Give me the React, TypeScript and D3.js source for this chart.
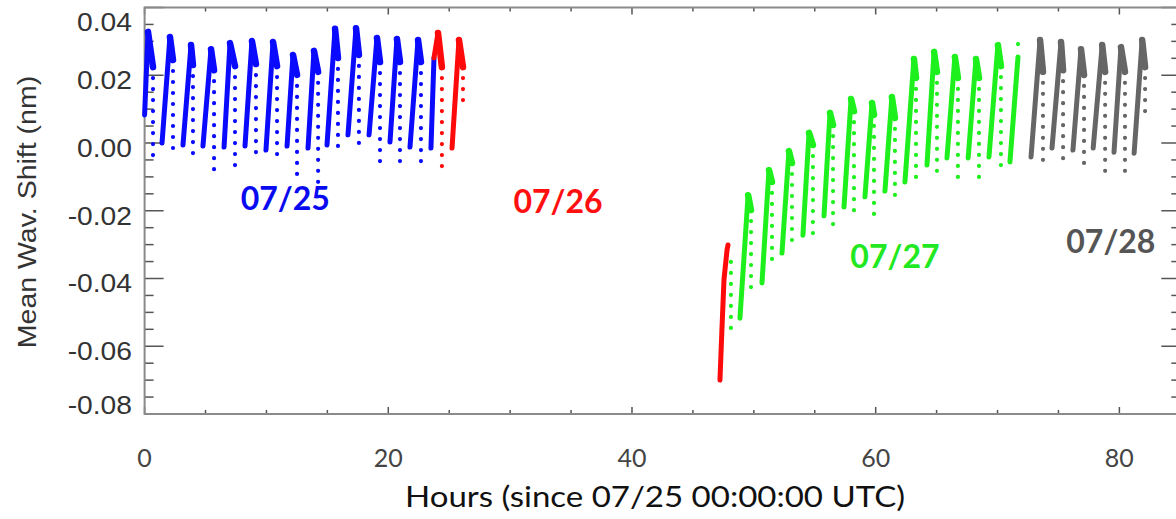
import { useEffect, useRef } from "react";
import * as d3 from "d3";

type Pt = [number, number];
type Col = [number, number, number]; // hour, first dot value, last dot value

// 07/25 — blue: rise (bottom, peak, end of dense cap) and sparse falling dots
const day25Rise: Pt[][] = [
  [[0.0, 0.0083], [0.28, 0.0328], [0.69, 0.0224]],
  [[1.43, 0.0], [2.08, 0.0313], [2.33, 0.0245]],
  [[3.15, -0.0006], [3.81, 0.0289], [3.97, 0.023]],
  [[4.79, -0.0009], [5.45, 0.0277], [5.7, 0.0215]],
  [[6.52, -0.0012], [7.01, 0.0295], [7.42, 0.0227]],
  [[8.24, -0.0009], [8.81, 0.0301], [9.14, 0.0233]],
  [[9.96, -0.0021], [10.54, 0.0298], [10.87, 0.0227]],
  [[11.69, -0.0009], [12.18, 0.026], [12.51, 0.0201]],
  [[13.41, -0.0015], [13.9, 0.0272], [14.24, 0.021]],
  [[14.97, -0.0006], [15.63, 0.0337], [15.87, 0.0251]],
  [[16.69, 0.0024], [17.35, 0.0339], [17.59, 0.026]],
  [[18.42, 0.0024], [19.07, 0.031], [19.32, 0.0239]],
  [[20.14, 0.0003], [20.71, 0.0307], [20.96, 0.0239]],
  [[21.78, -0.0012], [22.44, 0.0304], [22.68, 0.0239]],
  [[23.5, -0.0015], [23.75, 0.0251]],
];
const day25Dots: Col[] = [
  [0.69, 0.0224, -0.0047],
  [2.33, 0.0245, -0.0047],
  [3.97, 0.023, -0.0062],
  [5.7, 0.0215, -0.008],
  [7.42, 0.0227, -0.0092],
  [9.14, 0.0233, -0.0041],
  [10.87, 0.0227, -0.0065],
  [12.51, 0.0201, -0.0115],
  [14.24, 0.021, -0.0139],
  [15.87, 0.0251, -0.0035],
  [17.59, 0.026, -0.0012],
  [19.32, 0.0239, -0.0059],
  [20.96, 0.0239, -0.0071],
  [22.68, 0.0239, -0.0065],
];

// 07/26 — red
const day26Rise: Pt[][] = [
  [[23.75, 0.0251], [24.08, 0.0325], [24.4, 0.0224]],
  [[25.23, -0.0015], [25.8, 0.0304], [26.13, 0.0224]],
  [[47.22, -0.07], [47.38, -0.0552], [47.55, -0.0404], [47.8, -0.0316], [47.88, -0.0301]],
];
const day26Dots: Col[] = [
  [24.4, 0.0224, -0.0071],
  [26.13, 0.0224, 0.0118],
];

// 07/27 — green
const day27Rise: Pt[][] = [
  [[48.86, -0.0517], [49.53, -0.0154], [49.77, -0.0198]],
  [[50.67, -0.0413], [51.24, -0.008], [51.49, -0.0115]],
  [[52.31, -0.0325], [52.88, -0.0024], [53.13, -0.0059]],
  [[54.03, -0.0272], [54.53, 0.003], [54.85, -0.0006]],
  [[55.76, -0.0215], [56.25, 0.0089], [56.5, 0.0053]],
  [[57.4, -0.0189], [57.98, 0.013], [58.22, 0.0094]],
  [[59.12, -0.0159], [59.7, 0.0118], [59.86, 0.0083]],
  [[60.76, -0.0142], [61.33, 0.0136], [61.58, 0.0074]],
  [[62.4, -0.0115], [63.14, 0.0248], [63.31, 0.0192]],
  [[64.21, -0.0065], [64.79, 0.0269], [65.03, 0.021]],
  [[65.85, -0.0044], [66.5, 0.0254], [66.75, 0.0192]],
  [[67.59, -0.0044], [68.23, 0.0248], [68.48, 0.0192]],
  [[69.3, -0.0041], [70.03, 0.0289], [70.28, 0.0227]],
  [[71.02, -0.0056], [71.68, 0.0254]],
];
const day27Dots: Col[] = [
  [48.12, -0.0351, -0.0573],
  [49.77, -0.0198, -0.0449],
  [51.49, -0.0115, -0.0351],
  [53.13, -0.0059, -0.0316],
  [54.85, -0.0006, -0.0286],
  [56.5, 0.0053, -0.0248],
  [58.22, 0.0094, -0.0204],
  [59.86, 0.0083, -0.0213],
  [61.58, 0.0074, -0.0159],
  [63.31, 0.0192, -0.0121],
  [65.03, 0.021, -0.01],
  [66.75, 0.0192, -0.0106],
  [68.48, 0.0192, -0.0106],
  [70.28, 0.0227, -0.0077],
  [71.68, 0.0292, 0.0292],
];

// 07/28 — gray
const day28Rise: Pt[][] = [
  [[72.75, -0.0041], [73.49, 0.0304], [73.73, 0.021]],
  [[74.47, -0.0015], [75.21, 0.0298], [75.38, 0.0215]],
  [[76.19, -0.0021], [76.85, 0.0277], [77.1, 0.0201]],
  [[77.85, -0.0015], [78.59, 0.0289], [78.83, 0.021]],
  [[79.56, -0.0027], [80.13, 0.0283], [80.46, 0.021]],
  [[81.21, -0.003], [81.87, 0.0304], [82.11, 0.0224]],
];
const day28Dots: Col[] = [
  [73.73, 0.021, -0.0071],
  [75.38, 0.0215, -0.0065],
  [77.1, 0.0201, -0.0077],
  [78.83, 0.021, -0.0086],
  [80.46, 0.021, -0.01],
  [82.11, 0.0224, 0.0077],
];

const dayLabels = ["07/25", "07/26", "07/27", "07/28"];
const dayLabelHours = [11.54, 33.93, 61.58, 79.3];
const dayLabelValues = [-0.0198, -0.0207, -0.0369, -0.0325];

const xTickLabels = ["0", "20", "40", "60", "80"];
const yTickLabels = ["-0.08", "-0.06", "-0.04", "-0.02", "0.00", "0.02", "0.04"];

const W = 1176;
const H = 519;

const Chart = () => {
  const svgRef = useRef<SVGSVGElement | null>(null);

  useEffect(() => {
    const svg = d3.select(svgRef.current);
    svg.selectAll("*").remove();

    const x = d3.scaleLinear().domain([0, 85]).range([144.6, 1180.3]);
    const y = d3.scaleLinear().domain([-0.08, 0.04]).range([414, 7.5]);
    const line = d3
      .line<Pt>()
      .x((d) => x(d[0]))
      .y((d) => y(d[1]));

    const [x0, x1] = x.range();
    const [y0, y1] = y.range();

    // ticks
    const ax = svg.append("g").attr("stroke", "#555").attr("stroke-width", 1.5);
    const yMinor = y.ticks(24);
    const yMajor = y.ticks(6);
    const xMinor = x.ticks(17);
    const xMajor = d3.range(0, 81, 20);

    yMinor.forEach((v) => {
      const major = yMajor.some((m) => Math.abs(m - v) < 1e-9);
      const len = major ? 19 : 9;
      ax.append("line").attr("x1", x0).attr("x2", x0 + len).attr("y1", y(v)).attr("y2", y(v));
      ax.append("line").attr("x1", x1).attr("x2", x1 - len).attr("y1", y(v)).attr("y2", y(v));
    });
    xMinor.forEach((h) => {
      const major = xMajor.some((m) => Math.abs(m - h) < 1e-9);
      const len = major ? 7 : 4;
      ax.append("line").attr("x1", x(h)).attr("x2", x(h)).attr("y1", y0).attr("y2", y0 - len);
      ax.append("line").attr("x1", x(h)).attr("x2", x(h)).attr("y1", y1).attr("y2", y1 + len);
    });

    // frame
    svg
      .append("rect")
      .attr("x", x0)
      .attr("y", y1)
      .attr("width", x1 - x0)
      .attr("height", y0 - y1)
      .attr("fill", "none")
      .attr("stroke", "#8a8a8a")
      .attr("stroke-width", 2);

    // data
    const series = [
      { color: "#0a0aff", rise: day25Rise, dots: day25Dots },
      { color: "#ff0a0a", rise: day26Rise, dots: day26Dots },
      { color: "#1ef01e", rise: day27Rise, dots: day27Dots },
      { color: "#666666", rise: day28Rise, dots: day28Dots },
    ];
    const marks = svg.append("g");
    series.forEach((s) => {
      const g = marks.append("g");
      g.selectAll(null)
        .data(s.dots)
        .join("path")
        .attr("d", (d) => line([[d[0], d[1]], [d[0], d[2]]]))
        .attr("fill", "none")
        .attr("stroke", s.color)
        .attr("stroke-width", 4.2)
        .attr("stroke-linecap", "round")
        .attr("stroke-dasharray", "0 11");
      g.selectAll(null)
        .data(s.rise)
        .join("path")
        .attr("d", (d) => line(d))
        .attr("fill", "none")
        .attr("stroke", s.color)
        .attr("stroke-width", 5)
        .attr("stroke-linecap", "round")
        .attr("stroke-linejoin", "round");
      // dense cap after the peak (only where the rise ends with a descent)
      const caps = s.rise.filter((d) => d.length > 2 && d[d.length - 1][1] < d[d.length - 2][1]);
      g.selectAll(null)
        .data(caps)
        .join("path")
        .attr("d", (d) => line(d.slice(-2)))
        .attr("fill", "none")
        .attr("stroke", s.color)
        .attr("stroke-width", 6.5)
        .attr("stroke-linecap", "round");
    });

    // y tick labels
    yTickLabels.forEach((t) => {
      const cy = Math.min(406, Math.max(23, y(+t) + 5.5));
      svg
        .append("text")
        .attr("transform", `translate(132,${cy}) scale(1.13,1)`)
        .attr("text-anchor", "end")
        .attr("dominant-baseline", "central")
        .attr("font-family", "'Liberation Sans', Arial, sans-serif")
        .attr("font-size", 25)
        .attr("fill", "#333")
        .text(t);
    });

    // x tick labels
    xTickLabels.forEach((t) => {
      svg
        .append("text")
        .attr("x", x(+t))
        .attr("y", 467)
        .attr("text-anchor", "middle")
        .attr("font-family", "Lato, sans-serif")
        .attr("font-size", 25)
        .attr("fill", "#444")
        .text(t);
    });

    // axis titles
    svg
      .append("text")
      .attr("x", 405)
      .attr("y", 507)
      .attr("textLength", 500)
      .attr("lengthAdjust", "spacingAndGlyphs")
      .attr("font-family", "Lato, sans-serif")
      .attr("font-size", 29)
      .attr("fill", "#111")
      .text("Hours (since 07/25 00:00:00 UTC)");

    svg
      .append("text")
      .attr("transform", "translate(28,212) rotate(-90) scale(1.14,1)")
      .attr("text-anchor", "middle")
      .attr("dominant-baseline", "central")
      .attr("font-family", "'Liberation Sans', Arial, sans-serif")
      .attr("font-size", 25)
      .attr("fill", "#333")
      .text("Mean Wav. Shift (nm)");

    // day labels
    const labelColors = ["#0a0af0", "#ff1010", "#22e822", "#555555"];
    dayLabels.forEach((t, i) => {
      svg
        .append("text")
        .attr("x", x(dayLabelHours[i]))
        .attr("y", y(dayLabelValues[i]))
        .attr("text-anchor", "middle")
        .attr("font-family", "Lato, sans-serif")
        .attr("font-weight", 700)
        .attr("font-size", 32)
        .attr("fill", labelColors[i])
        .text(t);
    });
  }, []);

  return (
    <svg
      ref={svgRef}
      width={W}
      height={H}
      style={{ position: "absolute", left: 0, top: 0, background: "#fff" }}
    ></svg>
  );
};

export default function App() {
  return <Chart />;
}
